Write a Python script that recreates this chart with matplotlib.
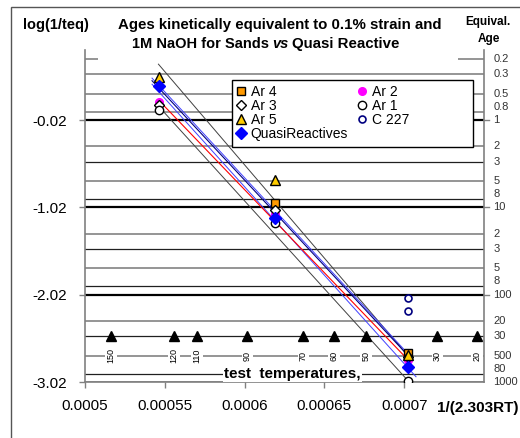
import numpy as np
import matplotlib.pyplot as plt
from matplotlib.patches import Rectangle

plt.rcParams['font.family'] = ['Liberation Sans', 'DejaVu Sans']

# test temperatures (deg C) of the three measured columns
col_temp = [127, 80, 38]

# log(1/teq) per series
ar4 = [np.nan, -0.97, -2.69]
ar2 = [0.19, -1.10, -2.77]
ar3 = [0.15, -1.05, -2.73]
ar1 = [0.10, -1.20, -3.01]
ar5 = [0.47, -0.71, -2.71]
quasi = [0.37, -1.14, -2.85]
c227_temp = [38, 38]
c227 = [-2.06, -2.21]

# temperatures marked along the bottom
mark_temps = [150, 120, 110, 90, 70, 60, 50, 30, 20]

# equivalent age scale on the right
ages = [0.2, 0.3, 0.5, 0.8, 1, 2, 3, 5, 8, 10, 20, 30, 50, 80, 100,
        200, 300, 500, 800, 1000]
age_labels = ["0.2", "0.3", "0.5", "0.8", "1", "2", "3", "5", "8", "10",
              "2", "3", "5", "8", "100", "20", "30", "500", "80", "1000"]

# trend lines and bounds (end points)
upper_x, upper_y = [0.000546, 0.0007005], [0.62, -2.68]
lower_x, lower_y = [0.000548, 0.0007036], [0.10, -3.03]
red_x, red_y = [0.000546, 0.0007005], [0.21, -2.73]
navy_x, navy_y = [0.000542, 0.0007005], [0.43, -2.68]
blue1_x, blue1_y = [0.000542, 0.0007036], [0.46, -2.72]
blue2_x, blue2_y = [0.000542, 0.0007074], [0.39, -2.96]


def inv_rt(temp_c):
    return 1.0 / (2.303 * 1.987 * (np.asarray(temp_c) + 273.15))


def age_to_y(age):
    return -0.02 - np.log10(age)


fig = plt.figure(figsize=(5.2, 4.38), dpi=100)
ax = fig.add_axes([85 / 520, 1 - 382 / 438, 399 / 520, 332 / 438])
ax.set_xlim(0.0005, 0.00075)
ax.set_ylim(-3.02, 0.782)

# horizontal lines of the age scale
for age in ages:
    y = age_to_y(age)
    if age in (1, 10, 100):
        ax.axhline(y, color='black', lw=1.6, zorder=1)
    elif str(age)[0] in '38':
        ax.axhline(y, color='#202020', lw=0.9, zorder=1)
    else:
        ax.axhline(y, color='#8c8c8c', lw=1.3, zorder=1)

ytr = ax.get_yaxis_transform()
for age, lab in zip(ages, age_labels):
    y = age_to_y(age)
    # the "8" labels sit a little above their line
    va = 'bottom' if str(age).endswith('8') or str(age).startswith('8') else 'center'
    ax.text(1.024, y, lab, transform=ytr, fontsize=8, color='#333333',
            va=va, ha='left')
    if age in (1, 10, 100):
        ax.plot([1.0, 1.013], [y, y], transform=ytr, color='#808080', lw=1, clip_on=False)

# trend lines
ax.plot(upper_x, upper_y, color='#404040', lw=0.7, zorder=2)
ax.plot(lower_x, lower_y, color='#404040', lw=0.7, zorder=2)
ax.plot(blue1_x, blue1_y, color='#4040ff', lw=0.7, zorder=2)
ax.plot(blue2_x, blue2_y, color='#4040ff', lw=0.7, zorder=2)
ax.plot(navy_x, navy_y, color='#000080', lw=0.8, zorder=2)
ax.plot(red_x, red_y, color='#ff0000', lw=0.8, zorder=2)

# test temperature markers
mx = inv_rt(mark_temps)
ax.plot(mx, [age_to_y(300)] * len(mx), '^', color='black', ms=7, zorder=3)
for x, t in zip(mx, mark_temps):
    ax.text(x, age_to_y(500), str(t), rotation=90, fontsize=6.5, ha='center', va='center',
            bbox=dict(facecolor='white', edgecolor='none', pad=1), zorder=3)
ax.text(0.00063, age_to_y(800), 'test  temperatures,', fontsize=11, fontweight='bold',
        ha='center', va='center', bbox=dict(facecolor='white', edgecolor='none', pad=1), zorder=3)

cx = inv_rt(col_temp)
kw = dict(linestyle='none', zorder=4)
h_ar4, = ax.plot(cx, ar4, 's', mfc='#ff9900', mec='black', ms=6, mew=1, label='Ar 4', **kw)
h_ar2, = ax.plot(cx, ar2, 'o', mfc='#ff00ff', mec='#ff00ff', ms=5.5, label='Ar 2', **kw)
h_ar3, = ax.plot(cx, ar3, 'D', mfc='white', mec='black', ms=5, mew=1, label='Ar 3', **kw)
h_ar1, = ax.plot(cx, ar1, 'o', mfc='white', mec='black', ms=6, mew=1, label='Ar 1', **kw)
h_ar5, = ax.plot(cx, ar5, '^', mfc='#ffcc00', mec='black', ms=7, mew=1, label='Ar 5', **kw)
h_c227, = ax.plot(inv_rt(c227_temp), c227, 'o', mfc='white', mec='#000080', ms=5, mew=1.2,
                  label='C 227', **kw)
h_q, = ax.plot(cx, quasi, 'D', mfc='#0000ff', mec='#0000ff', ms=6, label='QuasiReactives', **kw)

# legend box
ax.add_patch(Rectangle((0.368, 0.708), 0.604, 0.202, transform=ax.transAxes,
                       facecolor='white', edgecolor='black', lw=1, zorder=5))
handles = [h_ar4, h_ar3, h_ar5, h_q, h_ar2, h_ar1, h_c227]
leg = ax.legend(handles=handles, ncol=2, loc='upper left', bbox_to_anchor=(0.37, 0.903),
                frameon=False, fontsize=10, borderaxespad=0, borderpad=0.2,
                labelspacing=0.0, handlelength=0.8, handletextpad=0.3,
                columnspacing=0.6, numpoints=1)
leg.set_zorder(6)

# axes styling
ax.spines['top'].set_visible(False)
for side in ('left', 'right', 'bottom'):
    ax.spines[side].set_color('#808080')
    ax.spines[side].set_linewidth(1.2)
ax.set_xticks([0.0005, 0.00055, 0.0006, 0.00065, 0.0007])
ax.set_xticklabels(['0.0005', '0.00055', '0.0006', '0.00065', '0.0007'])
ax.set_yticks([-3.02, -2.02, -1.02, -0.02])
ax.set_yticklabels(['-3.02', '-2.02', '-1.02', '-0.02'])
ax.tick_params(axis='both', colors='#808080', labelcolor='black', labelsize=11,
               length=4, width=1)
ax.tick_params(axis='x', pad=8)
ax.tick_params(axis='y', pad=9)

# title block and outer frame
fig.add_artist(Rectangle((98 / 520, 1 - 62 / 438), 360 / 520, 50 / 438,
                         transform=fig.transFigure, facecolor='white', edgecolor='none', zorder=1))
fig.add_artist(Rectangle((11 / 520, -0.1), 1.2, 1 - 7 / 438 + 0.1,
                         transform=fig.transFigure, facecolor='none', edgecolor='#555555', lw=1))


def ftext(x, y, s, **k):
    fig.text(x / 520, 1 - y / 438, s, va='center', zorder=2, **k)


ftext(280, 25, 'Ages kinetically equivalent to 0.1% strain and', fontsize=10.8,
      fontweight='bold', ha='center')
ftext(269, 44, '1M NaOH for Sands', fontsize=10.5, fontweight='bold', ha='right')
ftext(280, 44, 'vs', fontsize=10.5, fontweight='bold', style='italic', ha='center')
ftext(292, 44, 'Quasi Reactive', fontsize=10.8, fontweight='bold', ha='left')
ftext(56, 25, 'log(1/teq)', fontsize=10.5, fontweight='bold', ha='center')
ftext(488, 22, 'Equival.', fontsize=8.5, fontweight='bold', ha='center')
ftext(489, 39, 'Age', fontsize=8.5, fontweight='bold', ha='center')
ftext(437, 408, '1/(2.303RT)', fontsize=11, fontweight='bold', ha='left')

fig.savefig('out.png', dpi=100)
